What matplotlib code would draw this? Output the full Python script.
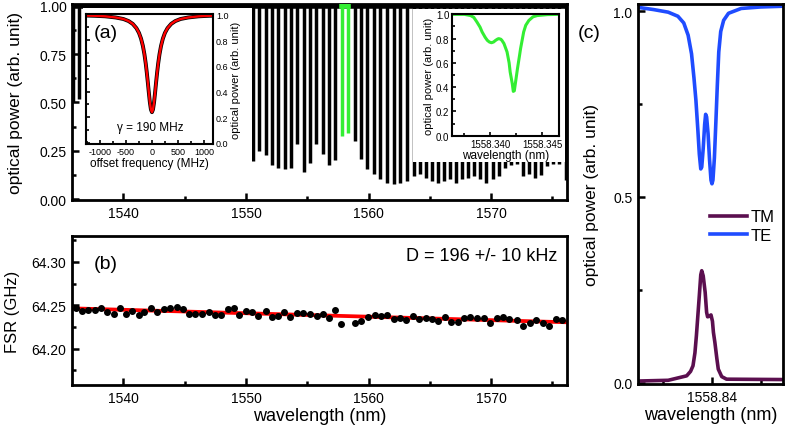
import matplotlib
matplotlib.use('Agg')
import matplotlib.pyplot as plt
from matplotlib.patches import Rectangle
from matplotlib.ticker import MultipleLocator, FormatStrFormatter, FixedLocator

plt.rcParams['font.family'] = ['Liberation Sans', 'DejaVu Sans']
plt.rcParams['axes.unicode_minus'] = False

# ---------------- data ----------------
# (a) transmission comb: resonance wavelengths (nm) and dip minima
dip_wavelength = [1535.90, 1536.40, 1536.91, 1537.41, 1537.92, 1538.42, 1538.93, 1539.43,
                  1539.94, 1540.44, 1540.95, 1541.45, 1541.96, 1542.46, 1542.97, 1543.47,
                  1543.98, 1544.48, 1544.99, 1545.50, 1546.00, 1546.51, 1547.02, 1547.53,
                  1548.04, 1548.55, 1549.06, 1549.57, 1550.08,
                  1550.59, 1551.10, 1551.62, 1552.13, 1552.64, 1553.16, 1553.67, 1554.19,
                  1554.70, 1555.22, 1555.74, 1556.26, 1556.78, 1557.30,
                  1558.86, 1559.37, 1559.91, 1560.45, 1560.97, 1561.51, 1562.05, 1562.60,
                  1563.14, 1563.67, 1564.17, 1564.66, 1565.16, 1565.66, 1566.15, 1566.65,
                  1567.14, 1567.64, 1568.14, 1568.63, 1569.13, 1569.62, 1570.12, 1570.62,
                  1571.11, 1571.61, 1572.11, 1572.60, 1573.10, 1573.59, 1574.09, 1574.59,
                  1575.08, 1575.58, 1576.08]
dip_min = [0.50, 0.52, 0.45, 0.42, 0.40, 0.38, 0.36, 0.35, 0.34, 0.33, 0.32, 0.31, 0.30, 0.30,
           0.29, 0.29, 0.28, 0.28, 0.27, 0.27, 0.26, 0.26, 0.25, 0.25, 0.24, 0.24, 0.23, 0.23,
           0.22,
           0.196, 0.248, 0.226, 0.176, 0.163, 0.154, 0.163, 0.287, 0.142, 0.185, 0.287, 0.231,
           0.174, 0.200,
           0.299, 0.205, 0.154, 0.128, 0.103, 0.085, 0.077, 0.085, 0.094, 0.120, 0.128, 0.111,
           0.094, 0.085, 0.094, 0.103, 0.085, 0.103, 0.111, 0.120, 0.103, 0.085, 0.103, 0.120,
           0.162, 0.175, 0.180, 0.120, 0.130, 0.111, 0.125, 0.170, 0.180, 0.180, 0.100]
green_wavelength = [1557.82, 1558.34]
green_min = [0.325, 0.342]
baseline = 1.0

# (a) inset 1: Lorentzian fit
offset_freq = [-1275, -1100, -900, -700, -550, -450, -370, -300, -250, -210, -175, -145, -120,
               -100, -80, -60, -40, -20, 0, 20, 40, 60, 80, 100, 120, 145, 175, 210, 250, 300,
               370, 450, 550, 700, 900, 1100, 1180]
inset_power = [0.993, 0.991, 0.987, 0.978, 0.966, 0.950, 0.928, 0.895, 0.858, 0.813, 0.757,
               0.691, 0.620, 0.551, 0.474, 0.392, 0.316, 0.261, 0.240, 0.261, 0.316, 0.392,
               0.474, 0.551, 0.620, 0.691, 0.757, 0.813, 0.858, 0.895, 0.928, 0.950, 0.966,
               0.978, 0.987, 0.991, 0.992]
gamma_text = 'γ = 190 MHz'

# (a) inset 2: zoom on the green resonance
zoom_wavelength = [1558.3363, 1558.3375, 1558.3381, 1558.3384, 1558.3387, 1558.3390, 1558.3392,
                   1558.3395, 1558.3397, 1558.3399, 1558.3401, 1558.3403, 1558.3405, 1558.3407,
                   1558.3408, 1558.3410, 1558.3411, 1558.3413, 1558.3416, 1558.3418, 1558.3419,
                   1558.3421, 1558.3422, 1558.3423, 1558.3424, 1558.3426, 1558.3428, 1558.3429,
                   1558.3432, 1558.3434, 1558.3437, 1558.3441, 1558.3445, 1558.3455, 1558.3466]
zoom_power = [1.0, 1.0, 0.99, 0.975, 0.937, 0.895, 0.855, 0.81, 0.786, 0.772, 0.766, 0.772,
              0.786, 0.797, 0.80, 0.795, 0.786, 0.76, 0.69, 0.60, 0.525, 0.43, 0.365, 0.37,
              0.43, 0.551, 0.66, 0.717, 0.855, 0.91, 0.95, 0.98, 0.99, 0.998, 1.0]

# (b) FSR
fsr_wavelength = [1536.09, 1536.64, 1537.10, 1537.66, 1538.19, 1538.67, 1539.21, 1539.70,
                  1540.24, 1540.71, 1541.25, 1541.65, 1542.25, 1542.74, 1543.28, 1543.82,
                  1544.37, 1544.86, 1545.31, 1545.86, 1546.40, 1546.94, 1547.43, 1547.97,
                  1548.49, 1548.98, 1549.46, 1550.01, 1550.52, 1551.01, 1551.61, 1552.10,
                  1552.59, 1553.12, 1553.59, 1554.13, 1554.67, 1555.22, 1555.76, 1556.25,
                  1556.79, 1557.30, 1557.79, 1558.88, 1559.42, 1559.96, 1560.50, 1561.05,
                  1561.51, 1562.05, 1562.54, 1563.08, 1563.62, 1564.11, 1564.65, 1565.20,
                  1565.71, 1566.26, 1566.74, 1567.28, 1567.83, 1568.32, 1568.86, 1569.40,
                  1569.94, 1570.46, 1571.00, 1571.49, 1572.08, 1572.63, 1573.17, 1573.66,
                  1574.20, 1574.74, 1575.29, 1575.83]
fsr_ghz = [64.2465, 64.2439, 64.2446, 64.2442, 64.2473, 64.2419, 64.2404, 64.2465, 64.2404,
           64.2434, 64.2388, 64.2419, 64.2473, 64.2427, 64.2457, 64.2473, 64.2480, 64.2454,
           64.2396, 64.2396, 64.2396, 64.2419, 64.2388, 64.2388, 64.2457, 64.2465, 64.2388,
           64.2439, 64.2427, 64.2373, 64.2434, 64.2361, 64.2381, 64.2423, 64.2370, 64.2408,
           64.2415, 64.2404, 64.2373, 64.2404, 64.2350, 64.2446, 64.2281, 64.2292, 64.2319,
           64.2365, 64.2388, 64.2381, 64.2388, 64.2342, 64.2350, 64.2327, 64.2377, 64.2342,
           64.2354, 64.2338, 64.2319, 64.2365, 64.2312, 64.2312, 64.2358, 64.2365, 64.2350,
           64.2350, 64.2292, 64.2350, 64.2361, 64.2342, 64.2331, 64.2266, 64.2292, 64.2335,
           64.2292, 64.2266, 64.2338, 64.2331]
fit_wavelength = [1535.8, 1576.2]
fit_fsr = [64.2465, 64.2304]
d_text = 'D = 196 +/- 10 kHz'

# (c) TE / TM
te_wavelength = [1558.8248, 1558.8280, 1558.8310, 1558.8330, 1558.8342, 1558.8351, 1558.8358,
                 1558.8363, 1558.8367, 1558.8371, 1558.8374, 1558.8377, 1558.8379, 1558.8382,
                 1558.8385, 1558.8387, 1558.8389, 1558.8392, 1558.8395, 1558.8398, 1558.8400,
                 1558.8402, 1558.8405, 1558.8408, 1558.8411, 1558.8414, 1558.8418, 1558.8424,
                 1558.8434, 1558.8460, 1558.8500, 1558.8546]
te_power = [1.010, 1.004, 0.997, 0.986, 0.968, 0.935, 0.885, 0.820, 0.760, 0.680, 0.615, 0.575,
            0.580, 0.630, 0.695, 0.722, 0.715, 0.670, 0.600, 0.545, 0.535, 0.545, 0.605, 0.700,
            0.800, 0.890, 0.945, 0.975, 0.994, 1.007, 1.011, 1.013]
tm_wavelength = [1558.8248, 1558.8310, 1558.8348, 1558.8356, 1558.8361, 1558.8365, 1558.8368,
                 1558.8371, 1558.8374, 1558.8377, 1558.8379, 1558.8382, 1558.8386, 1558.8389,
                 1558.8391, 1558.8394, 1558.8398, 1558.8401, 1558.8403, 1558.8406, 1558.8410,
                 1558.8413, 1558.8420, 1558.8430, 1558.8546]
tm_power = [0.004, 0.006, 0.018, 0.030, 0.045, 0.080, 0.126, 0.180, 0.234, 0.290, 0.301, 0.287,
            0.243, 0.189, 0.177, 0.178, 0.182, 0.165, 0.135, 0.108, 0.065, 0.036, 0.016, 0.009,
            0.008]

black = 'k'
green = '#33ee33'
red = '#ff0000'
te_color = '#1f4cff'
tm_color = '#5b0f4f'

# ---------------- figure ----------------
fig = plt.figure(figsize=(7.87, 4.31), dpi=100)


def style(ax, lw=2.0, tw=1.8, ml=5, nl=3, fs=10):
    for s in ax.spines.values():
        s.set_linewidth(lw)
    ax.tick_params(which='both', direction='in', width=tw, labelsize=fs, pad=4)
    ax.tick_params(which='major', length=ml)
    ax.tick_params(which='minor', length=nl)


# (a)
ax_a = fig.add_axes([0.0915, 0.5336, 0.629, 0.4548])
ax_a.vlines(dip_wavelength, dip_min, baseline, color=black, lw=2.5)
ax_a.axhline(baseline, color=black, lw=4)
ax_a.vlines(green_wavelength, green_min, baseline, color=green, lw=2.5, zorder=3)
ax_a.plot(green_wavelength, [baseline, baseline], color=green, lw=4, zorder=3)
ax_a.set_xlim(1535.8, 1576.2)
ax_a.set_ylim(-0.005, 1.01)
ax_a.xaxis.set_major_locator(MultipleLocator(10))
ax_a.xaxis.set_minor_locator(MultipleLocator(5))
ax_a.yaxis.set_major_locator(MultipleLocator(0.25))
ax_a.yaxis.set_minor_locator(MultipleLocator(0.125))
ax_a.yaxis.set_major_formatter(FormatStrFormatter('%.2f'))
style(ax_a)
ax_a.set_ylabel('optical power (arb. unit)', fontsize=12.5)
ax_a.yaxis.set_label_coords(-0.099, 0.5)
# white boxes behind the insets
ax_a.add_patch(Rectangle((0.022, 0.148), 0.342, 0.83, transform=ax_a.transAxes,
                         facecolor='white', edgecolor='none', zorder=5))
ax_a.add_patch(Rectangle((0.689, 0.194), 0.306, 0.78, transform=ax_a.transAxes,
                         facecolor='white', edgecolor='none', zorder=5))

# inset 1
ax_i1 = fig.add_axes([0.1089, 0.6636, 0.1621, 0.3016], zorder=3)
ax_i1.plot(offset_freq, inset_power, color=black, lw=2.8)
ax_i1.plot(offset_freq, inset_power, color=red, lw=1.7)
ax_i1.set_xlim(-1275, 1180)
ax_i1.set_ylim(-0.008, 1.005)
ax_i1.xaxis.set_major_locator(MultipleLocator(500))
ax_i1.xaxis.set_minor_locator(MultipleLocator(250))
ax_i1.yaxis.set_major_locator(MultipleLocator(0.2))
ax_i1.yaxis.set_minor_locator(MultipleLocator(0.1))
ax_i1.yaxis.set_major_formatter(FormatStrFormatter('%.1f'))
style(ax_i1, lw=1.5, tw=1.2, ml=3, nl=2, fs=6.5)
ax_i1.tick_params(axis='both', pad=2)
ax_i1.yaxis.set_ticks_position('both')
ax_i1.tick_params(axis='y', which='both', left=True, right=False, labelleft=False, labelright=True)
ax_i1.yaxis.set_label_position('right')
ax_i1.set_ylabel('optical power (arb. unit)', fontsize=8, labelpad=2)
ax_i1.set_xlabel('offset frequency (MHz)', fontsize=8.5, labelpad=1)
ax_i1.text(0.504, 0.13, gamma_text, transform=ax_i1.transAxes, ha='center', va='center',
           fontsize=8.5)
ax_i1.text(0.16, 0.86, '(a)', transform=ax_i1.transAxes, ha='center', va='center', fontsize=14)

# inset 2
ax_i2 = fig.add_axes([0.5743, 0.6821, 0.136, 0.2831], zorder=3)
ax_i2.plot(zoom_wavelength, zoom_power, color=green, lw=2.2)
ax_i2.set_xlim(1558.3363, 1558.3466)
ax_i2.set_ylim(-0.003, 1.003)
ax_i2.xaxis.set_major_locator(FixedLocator([1558.340, 1558.345]))
ax_i2.xaxis.set_minor_locator(FixedLocator([1558.3375, 1558.3425]))
ax_i2.xaxis.set_major_formatter(FormatStrFormatter('%.3f'))
ax_i2.yaxis.set_major_locator(MultipleLocator(0.2))
ax_i2.yaxis.set_minor_locator(MultipleLocator(0.1))
ax_i2.yaxis.set_major_formatter(FormatStrFormatter('%.1f'))
style(ax_i2, lw=1.5, tw=1.2, ml=3, nl=2, fs=7)
ax_i2.tick_params(axis='both', pad=2)
ax_i2.set_ylabel('optical power (arb. unit)', fontsize=8, labelpad=1)
ax_i2.set_xlabel('wavelength (nm)', fontsize=8.5, labelpad=0)

# (b)
ax_b = fig.add_axes([0.0915, 0.1044, 0.629, 0.3457])
ax_b.plot(fit_wavelength, fit_fsr, color=red, lw=2.7, zorder=2)
ax_b.plot(fsr_wavelength, fsr_ghz, 'o', color=black, ms=4, zorder=3)
ax_b.set_xlim(1535.8, 1576.2)
ax_b.set_ylim(64.158, 64.330)
ax_b.xaxis.set_major_locator(MultipleLocator(10))
ax_b.xaxis.set_minor_locator(MultipleLocator(5))
ax_b.yaxis.set_major_locator(MultipleLocator(0.05))
ax_b.yaxis.set_minor_locator(MultipleLocator(0.025))
ax_b.yaxis.set_major_formatter(FormatStrFormatter('%.2f'))
style(ax_b)
ax_b.set_ylabel('FSR (GHz)', fontsize=12)
ax_b.yaxis.set_label_coords(-0.106, 0.5)
ax_b.set_xlabel('wavelength (nm)', fontsize=13, labelpad=2)
ax_b.text(0.069, 0.815, '(b)', transform=ax_b.transAxes, ha='center', va='center', fontsize=14)
ax_b.text(0.98, 0.869, d_text, transform=ax_b.transAxes, ha='right', va='center', fontsize=13)

# (c)
ax_c = fig.add_axes([0.8107, 0.1067, 0.1842, 0.8817])
ax_c.plot(tm_wavelength, tm_power, color=tm_color, lw=2.6, label='TM')
ax_c.plot(te_wavelength, te_power, color=te_color, lw=2.6, label='TE')
ax_c.set_xlim(1558.8248, 1558.8546)
ax_c.set_ylim(-0.004, 1.019)
ax_c.xaxis.set_major_locator(FixedLocator([1558.84]))
ax_c.xaxis.set_minor_locator(FixedLocator([1558.83, 1558.85]))
ax_c.xaxis.set_major_formatter(FormatStrFormatter('%.2f'))
ax_c.yaxis.set_major_locator(MultipleLocator(0.5))
ax_c.yaxis.set_minor_locator(MultipleLocator(0.25))
ax_c.yaxis.set_major_formatter(FormatStrFormatter('%.1f'))
style(ax_c)
ax_c.set_ylabel('optical power (arb. unit)', fontsize=12.5)
ax_c.yaxis.set_label_coords(-0.27, 0.5)
ax_c.set_xlabel('wavelength (nm)', fontsize=13, labelpad=2)
ax_c.text(-0.338, 0.926, '(c)', transform=ax_c.transAxes, ha='center', va='center', fontsize=14)
ax_c.legend(loc='upper right', bbox_to_anchor=(1.02, 0.49), frameon=False, fontsize=12,
            handlelength=2.2, handletextpad=0.2, labelspacing=0.2, borderpad=0.2)

fig.savefig('out.png', dpi=100)
